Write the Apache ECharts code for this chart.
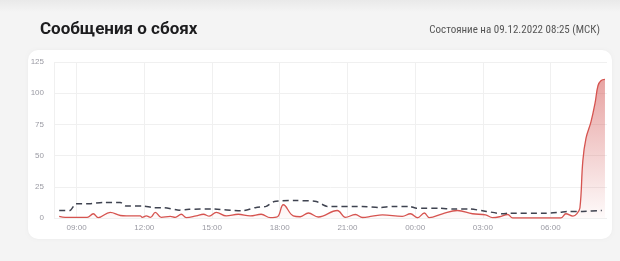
<!DOCTYPE html>
<html><head><meta charset="utf-8">
<script src="https://cdn.jsdelivr.net/npm/echarts@6/dist/echarts.min.js"></script>
<style>html,body{margin:0;padding:0;background:#f4f4f4;}#c{width:620px;height:261px;}</style>
</head><body><div id="c"></div>
<script>
// Hours since 00:00 of 08.12.2022 (24 = 00:00 09.12)
const reportTimes = [8.23,8.5,9.47,9.74,9.96,10.49,10.94,11.2,11.82,11.91,12.09,12.27,12.49,12.75,13.15,13.37,13.64,13.86,14.3,14.62,14.88,15.19,15.63,16.16,16.69,17.18,17.58,17.9,18.16,18.6,18.91,19.27,19.71,20.55,20.91,21.35,21.67,22.1,22.55,23.43,23.79,24.1,24.41,24.63,25.21,25.87,26.54,27.12,27.43,27.74,28.1,28.32,29.43,30.45,30.68,30.99,31.17,31.3,31.43,31.57,31.79,31.97,32.1,32.23,32.41];
const reportValues = [1.3,0.5,0.5,3.4,0.3,4.5,2,1.7,1.7,0.5,1.7,0.5,4.5,0.5,1.3,0.5,3,0.3,1.7,3,1.5,4.5,1.7,3,1.7,3,0.3,1,10.6,1.7,1,4,0.8,6,0.5,2.8,0.4,1.5,2.5,1.3,3.4,0.2,4,0.3,3.4,6,3.4,2.5,0.3,1,2.8,0,0,0,3.4,1.5,3.5,8,46,64,77,92,106,110,111];
const normalTimes = [8.23,8.71,8.97,9.56,10.18,10.94,11.2,11.96,12.4,12.89,13.55,13.99,14.97,16.34,16.96,17.4,17.76,18.73,19.62,20.11,21.66,22.42,23.0,23.75,24.06,25.08,25.66,26.41,27.16,27.87,28.18,29.82,30.4,30.84,31.42,32.27];
const normalValues = [6.1,6.1,11.4,11.4,12.5,12.5,9.6,9.6,8.3,8.3,6.3,7,7.2,5.8,8.5,9.3,13.2,14,13.2,9.3,9.3,8.3,9.3,9.3,7.8,7.8,7.2,7.2,5.3,3.4,3.9,3.9,4.6,5.3,5.3,6];
const xTickHours = [8,9,12,15,18,21,24,27,30];
const xLabelHours = [9,12,15,18,21,24,27,30];
const yTicks = [0,25,50,75,100,125];
const titleText = 'Сообщения о сбоях';
const statusText = 'Состояние на 09.12.2022 08:25 (МСК)';

const chart = echarts.init(document.getElementById('c'), null, {renderer:'canvas'});
const pair = (t, v) => t.map((x, i) => [x, v[i]]);
chart.setOption({
  animation:false,
  backgroundColor:'#f4f4f4',
  graphic:[
    {type:'rect', shape:{x:0,y:0,width:620,height:12}, style:{fill:new echarts.graphic.LinearGradient(0,0,0,1,[{offset:0,color:'#e9e9e9'},{offset:1,color:'#f4f4f4'}])}, z:-10},
    {type:'rect', shape:{x:28,y:50,width:584,height:189,r:10}, style:{fill:'#ffffff', shadowBlur:3, shadowColor:'rgba(0,0,0,0.04)'}, z:-10},
    {type:'text', x:40, y:30, style:{text:titleText, font:'bold 17px Roboto, "Noto Sans", sans-serif', fill:'#1c1c1e', textVerticalAlign:'middle'}},
    {type:'text', x:600, y:30, style:{text:statusText, font:'11px "Liberation Sans Narrow", "Roboto Condensed", Roboto, sans-serif', fill:'#555', textAlign:'right', textVerticalAlign:'middle'}}
  ],
  grid:{left:54, right:13, top:62, bottom:43, containLabel:false},
  xAxis:{
    type:'value', min:8, max:32.5,
    axisLine:{show:false},
    axisTick:{show:false, customValues:xTickHours},
    splitLine:{show:true, lineStyle:{color:'#f0f0f0', width:1}},
    axisLabel:{customValues:xLabelHours, color:'#9a9aa3', fontSize:8, margin:6,
      formatter:v => String(Math.round(v)%24).padStart(2,'0')+':00'}
  },
  yAxis:{
    type:'value', min:0, max:125, interval:25,
    axisLine:{show:false}, axisTick:{show:false},
    splitLine:{lineStyle:{color:'#f0f0f0', width:1}},
    axisLabel:{color:'#9a9aa3', fontSize:8, margin:10}
  },
  series:[
    {type:'line', name:'normal', data:pair(normalTimes, normalValues), showSymbol:false, smooth:0.2,
     lineStyle:{color:'#3f4350', width:1.5, type:[6,4]}, z:3},
    {type:'line', name:'reports', data:pair(reportTimes, reportValues), showSymbol:false, smooth:0.4,
     lineStyle:{color:'#d65450', width:1.3},
     areaStyle:{color:new echarts.graphic.LinearGradient(0,0,0,1,[{offset:0,color:'rgba(210,80,78,0.75)'},{offset:1,color:'rgba(210,80,78,0.04)'}])}, z:2}
  ]
});
</script></body></html>
